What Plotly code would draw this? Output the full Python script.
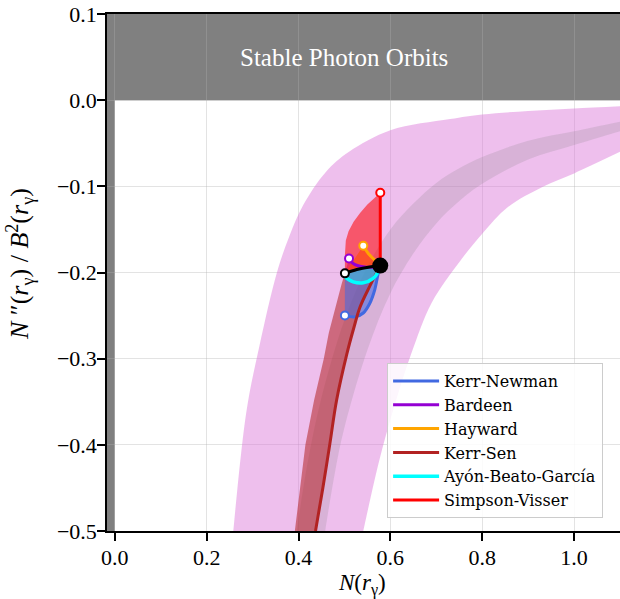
import plotly.graph_objects as go

# ---------------- data ----------------
X_RANGE = [-0.017, 1.1]
Y_RANGE = [-0.5, 0.1]
x_ticks = [0.0, 0.2, 0.4, 0.6, 0.8, 1.0]
y_ticks = [-0.5, -0.4, -0.3, -0.2, -0.1, 0.0, 0.1]

# broad (magenta) constraint band
pink_upper_x = [0.258, 0.275, 0.29, 0.315, 0.353, 0.38, 0.41, 0.46, 0.51, 0.60, 0.73, 0.80, 0.90, 1.0, 1.1]
pink_upper_y = [-0.5, -0.41, -0.35, -0.285, -0.2, -0.158, -0.122, -0.083, -0.06, -0.035, -0.022, -0.0166, -0.0125, -0.0096, -0.007]
pink_lower_x = [0.541, 0.575, 0.606, 0.645, 0.69, 0.75, 0.80, 0.856, 0.93, 1.0, 1.1]
pink_lower_y = [-0.5, -0.42, -0.36, -0.295, -0.235, -0.188, -0.155, -0.124, -0.101, -0.085, -0.06]

# narrow (gray) constraint band
gray_upper_x = [0.396, 0.42, 0.45, 0.50, 0.55, 0.60, 0.65, 0.70, 0.75, 0.80, 0.90, 1.0, 1.1]
gray_upper_y = [-0.5, -0.42, -0.345, -0.255, -0.193, -0.15, -0.12, -0.096, -0.079, -0.066, -0.047, -0.036, -0.025]
gray_lower_x = [0.458, 0.48, 0.50, 0.55, 0.60, 0.65, 0.70, 0.75, 0.80, 0.90, 1.0, 1.1]
gray_lower_y = [-0.5, -0.43, -0.38, -0.29, -0.224, -0.178, -0.143, -0.117, -0.097, -0.069, -0.052, -0.036]

# Schwarzschild point and Kerr curve
schw_x, schw_y = 0.578, -0.192
kerr_x = [0.578, 0.555, 0.527, 0.501]
kerr_y = [-0.192, -0.1935, -0.1965, -0.201]

# model curves (non-rotating, increasing charge)
kn_x = [0.578, 0.5735, 0.566, 0.555, 0.541, 0.523, 0.501]
kn_y = [-0.192, -0.201, -0.220, -0.236, -0.247, -0.2515, -0.250]
bardeen_x = [0.578, 0.570, 0.541, 0.519, 0.510]
bardeen_y = [-0.192, -0.1934, -0.1934, -0.1895, -0.1837]
hayward_x = [0.578, 0.570, 0.552, 0.541]
hayward_y = [-0.192, -0.1876, -0.1779, -0.169]
kerrsen_x = [0.578, 0.556, 0.534, 0.52, 0.505, 0.483, 0.4685, 0.453, 0.437]
kerrsen_y = [-0.192, -0.215, -0.24, -0.265, -0.295, -0.348, -0.398, -0.45, -0.5]
abg_x = [0.578, 0.5735, 0.5626, 0.541, 0.519, 0.501]
abg_y = [-0.192, -0.199, -0.2069, -0.212, -0.2108, -0.205]
sv_x = [0.578, 0.578]
sv_y = [-0.192, -0.1075]

# extremal-spin edges of the filled regions
kerrsen_edge_x = [0.501, 0.494, 0.483, 0.466, 0.455, 0.434, 0.415, 0.403, 0.392]
kerrsen_edge_y = [-0.201, -0.213, -0.235, -0.27, -0.30, -0.348, -0.40, -0.45, -0.5]
sv_edge_x = [0.501, 0.501, 0.503, 0.509, 0.52, 0.534, 0.55, 0.578]
sv_edge_y = [-0.201, -0.18, -0.163, -0.152, -0.141, -0.131, -0.121, -0.1075]

models = ["Kerr-Newman", "Bardeen", "Hayward", "Kerr-Sen", "Ayón-Beato-García", "Simpson-Visser"]
colors = {"Kerr-Newman": "#4169E1", "Bardeen": "#9400D3", "Hayward": "#FFA500",
          "Kerr-Sen": "#B22222", "Ayón-Beato-García": "#00FFFF", "Simpson-Visser": "#FF0000"}
fills = {"Kerr-Newman": "rgba(65,105,225,0.55)", "Bardeen": "rgba(148,0,211,0.45)",
         "Hayward": "rgba(255,165,0,0.6)", "Kerr-Sen": "rgba(178,34,34,0.55)",
         "Ayón-Beato-García": "rgba(0,255,255,0.35)", "Simpson-Visser": "rgba(255,0,0,0.55)"}
curves = {"Kerr-Newman": (kn_x, kn_y), "Bardeen": (bardeen_x, bardeen_y),
          "Hayward": (hayward_x, hayward_y), "Kerr-Sen": (kerrsen_x, kerrsen_y),
          "Ayón-Beato-García": (abg_x, abg_y), "Simpson-Visser": (sv_x, sv_y)}
edges = {"Kerr-Newman": ([kerr_x[-1], kn_x[-1]], [kerr_y[-1], kn_y[-1]]),
         "Bardeen": ([kerr_x[-1], bardeen_x[-1]], [kerr_y[-1], bardeen_y[-1]]),
         "Hayward": ([kerr_x[-1], hayward_x[-1]], [kerr_y[-1], hayward_y[-1]]),
         "Kerr-Sen": (kerrsen_edge_x, kerrsen_edge_y),
         "Ayón-Beato-García": ([kerr_x[-1]], [kerr_y[-1]]),
         "Simpson-Visser": (sv_edge_x, sv_edge_y)}
with_marker = ["Kerr-Newman", "Bardeen", "Hayward", "Simpson-Visser"]

SERIF = "Liberation Serif"
fig = go.Figure()

# bands
fig.add_trace(go.Scatter(x=pink_lower_x, y=pink_lower_y, mode="lines", line=dict(width=0, shape="spline"),
                         showlegend=False, hoverinfo="skip"))
fig.add_trace(go.Scatter(x=pink_upper_x, y=pink_upper_y, mode="lines", line=dict(width=0, shape="spline"),
                         fill="tonexty", fillcolor="rgba(218,112,214,0.45)", showlegend=False, hoverinfo="skip"))
fig.add_trace(go.Scatter(x=gray_lower_x, y=gray_lower_y, mode="lines", line=dict(width=0, shape="spline"),
                         showlegend=False, hoverinfo="skip"))
fig.add_trace(go.Scatter(x=gray_upper_x, y=gray_upper_y, mode="lines", line=dict(width=0, shape="spline"),
                         fill="tonexty", fillcolor="rgba(128,128,128,0.2)", showlegend=False, hoverinfo="skip"))

# filled regions: Kerr curve -> extremal edge -> model curve back to Schwarzschild
fill_order = ["Kerr-Sen", "Kerr-Newman", "Bardeen", "Hayward", "Ayón-Beato-García", "Simpson-Visser"]
for m in fill_order:
    cx, cy = curves[m]
    ex, ey = edges[m]
    px = list(kerr_x) + list(ex[1:]) + list(reversed(cx))
    py = list(kerr_y) + list(ey[1:]) + list(reversed(cy))
    fig.add_trace(go.Scatter(x=px, y=py, mode="lines", fill="toself", fillcolor=fills[m],
                             line=dict(width=0), showlegend=False, hoverinfo="skip"))

# model curves (legend)
for m in models:
    cx, cy = curves[m]
    fig.add_trace(go.Scatter(x=cx, y=cy, mode="lines", name=m,
                             line=dict(color=colors[m], width=3.5 if m == "Ayón-Beato-García" else 3, shape="spline")))

# Kerr curve
fig.add_trace(go.Scatter(x=kerr_x, y=kerr_y, mode="lines", line=dict(color="black", width=3, shape="spline"),
                         showlegend=False))

# end markers
for m in with_marker:
    cx, cy = curves[m]
    fig.add_trace(go.Scatter(x=[cx[-1]], y=[cy[-1]], mode="markers", showlegend=False,
                             marker=dict(size=8, color="white", line=dict(color=colors[m], width=2))))
fig.add_trace(go.Scatter(x=[kerr_x[-1]], y=[kerr_y[-1]], mode="markers", showlegend=False,
                         marker=dict(size=8, color="white", line=dict(color="black", width=2))))
fig.add_trace(go.Scatter(x=[schw_x], y=[schw_y], mode="markers", showlegend=False,
                         marker=dict(size=16, color="black")))

# excluded (stable photon orbit) regions
shapes = [
    dict(type="rect", xref="x", yref="y", x0=X_RANGE[0], x1=0.0, y0=Y_RANGE[0], y1=Y_RANGE[1],
         fillcolor="rgb(128,128,128)", line=dict(width=0), layer="below"),
    dict(type="rect", xref="x", yref="y", x0=X_RANGE[0], x1=X_RANGE[1], y0=0.0, y1=Y_RANGE[1],
         fillcolor="rgb(128,128,128)", line=dict(width=0), layer="below"),
]

annotations = [
    dict(x=0.5, y=0.05, xref="x", yref="y", text="Stable Photon Orbits", showarrow=False,
         font=dict(family=SERIF, size=25, color="white")),
    dict(x=0.497, y=-0.104, xref="paper", yref="paper", xanchor="center", yanchor="middle",
         text="<i>N</i>(<i>r</i><sub>γ</sub>)", showarrow=False, font=dict(family=SERIF, size=23)),
    dict(x=-0.17, y=0.516, xref="paper", yref="paper", xanchor="center", yanchor="middle", textangle=-90,
         text="<i>N</i> ″(<i>r</i><sub>γ</sub>) / <i>B</i><sup>2</sup>(<i>r</i><sub>γ</sub>)",
         showarrow=False, font=dict(family=SERIF, size=26)),
]

fig.update_layout(
    width=620, height=599,
    margin=dict(l=107, r=0, t=14, b=68, autoexpand=False),
    paper_bgcolor="white", plot_bgcolor="white",
    font=dict(family=SERIF, size=20, color="black"),
    shapes=shapes,
    annotations=annotations,
    legend=dict(x=0.546, y=0.025, xanchor="left", yanchor="bottom", bgcolor="rgba(255,255,255,0.85)",
                bordercolor="#cccccc", borderwidth=1, font=dict(family="DejaVu Serif", size=16),
                itemwidth=46, traceorder="normal"),
    showlegend=True,
)
axis_common = dict(showgrid=True, gridcolor="rgba(176,176,176,0.35)", gridwidth=1.2, zeroline=False,
                   showline=True, linecolor="black", linewidth=1.6, mirror=True,
                   ticks="outside", ticklen=8, tickwidth=1.5, tickcolor="black",
                   tickfont=dict(family=SERIF, size=22), tickformat=".1f", automargin=False)
fig.update_xaxes(range=X_RANGE, tickvals=x_ticks, ticklabelstandoff=-2, **axis_common)
fig.update_yaxes(range=Y_RANGE, tickvals=y_ticks, ticklabelstandoff=-4, **axis_common)

fig.write_html("out.html", config={"displayModeBar": False},
               post_script="document.body.style.margin='0';document.body.style.overflow='hidden';")
